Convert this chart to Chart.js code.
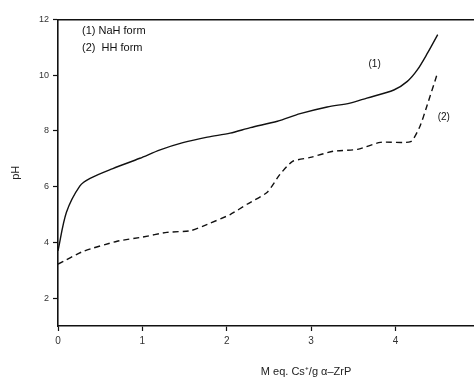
<!DOCTYPE html>
<html><head><meta charset="utf-8">
<script src="https://cdn.jsdelivr.net/npm/chart.js@4"></script>
<style>html,body{margin:0;padding:0;background:#fff}#wrap{width:474px;height:388px}</style>
</head><body><div id="wrap"><canvas id="c" width="474" height="388"></canvas></div>
<script>
const xTicks = [0, 1, 2, 3, 4];
const yTicks = [2, 4, 6, 8, 10, 12];
const nahX = [0, 0.1, 0.26, 0.38, 0.65, 0.97, 1.21, 1.48, 1.77, 2.04, 2.28, 2.6, 2.87, 3.19, 3.46, 3.66, 3.98, 4.14, 4.26, 4.38, 4.5];
const nahY = [3.7, 5.08, 6.03, 6.3, 6.65, 7.02, 7.32, 7.58, 7.78, 7.92, 8.12, 8.35, 8.62, 8.86, 9.0, 9.18, 9.47, 9.78, 10.2, 10.8, 11.46];
const hhX = [0, 0.3, 0.7, 1.0, 1.29, 1.57, 1.77, 2.04, 2.24, 2.48, 2.63, 2.78, 2.99, 3.26, 3.55, 3.82, 4.18, 4.29, 4.37, 4.5];
const hhY = [3.22, 3.68, 4.04, 4.19, 4.36, 4.42, 4.65, 5.0, 5.37, 5.8, 6.44, 6.91, 7.05, 7.27, 7.34, 7.59, 7.62, 8.17, 8.88, 10.1];
const legendLines = ["(1) NaH form", "(2)  HH form"];
const curveLabels = [{x: 3.68, y: 10.4, t: "(1)"}, {x: 4.5, y: 8.5, t: "(2)"}];
const xTitle = "M eq. Cs\u207A/g \u03B1\u2013ZrP";

const pts = (xs, ys) => xs.map((x, i) => ({x: x, y: ys[i]}));
const FONT = "'Liberation Sans', Arial, sans-serif";

const textPlugin = {
  id: 'texts',
  afterDatasetsDraw(chart) {
    const ctx = chart.ctx, xs = chart.scales.x, ys = chart.scales.y;
    ctx.save();
    ctx.fillStyle = '#111';
    ctx.font = '11px ' + FONT;
    ctx.textBaseline = 'middle';
    ctx.textAlign = 'left';
    legendLines.forEach((t, i) => ctx.fillText(t, 82, 31 + i * 17));
    ctx.font = '10px ' + FONT;
    curveLabels.forEach(c => ctx.fillText(c.t, xs.getPixelForValue(c.x), ys.getPixelForValue(c.y)));
    ctx.fillStyle = '#222';
    ctx.font = '11px ' + FONT;
    ctx.textAlign = 'center';
    ctx.fillText(xTitle, xs.getPixelForValue(2.94), 372);
    ctx.restore();
  }
};

new Chart(document.getElementById('c'), {
  type: 'scatter',
  data: {
    datasets: [
      {data: pts(nahX, nahY), showLine: true, borderColor: '#111', borderWidth: 1.4, pointRadius: 0, tension: 0.3, fill: false},
      {data: pts(hhX, hhY), showLine: true, borderColor: '#111', borderWidth: 1.4, borderDash: [6, 4], pointRadius: 0, tension: 0.2, fill: false}
    ]
  },
  options: {
    responsive: false,
    animation: false,
    layout: {padding: 0},
    plugins: {legend: {display: false}, tooltip: {enabled: false}},
    scales: {
      x: {
        type: 'linear', min: 0, max: 4.93, position: 'bottom',
        afterBuildTicks: s => { s.ticks = xTicks.map(v => ({value: v})); },
        afterFit: s => { s.height = 62; },
        grid: {drawOnChartArea: false, drawTicks: true, tickLength: 5, color: '#111', tickWidth: 1.2},
        border: {display: true, color: '#111', width: 1.6},
        ticks: {color: '#333', font: {family: FONT, size: 10}, padding: 4, maxRotation: 0}
      },
      x2: {
        type: 'linear', min: 0, max: 4.93, position: 'top',
        afterFit: s => { s.height = 19.5; },
        grid: {display: false},
        border: {display: true, color: '#111', width: 1.6},
        ticks: {display: false}
      },
      y: {
        type: 'linear', min: 1, max: 12,
        afterBuildTicks: s => { s.ticks = yTicks.map(v => ({value: v})); },
        afterFit: s => { s.width = 58; },
        grid: {drawOnChartArea: false, drawTicks: true, tickLength: 5, color: '#111', tickWidth: 1.2},
        border: {display: true, color: '#111', width: 1.6},
        ticks: {color: '#333', font: {family: FONT, size: 9}, padding: 4},
        title: {display: true, text: 'pH', color: '#222', font: {family: FONT, size: 11}, padding: {top: 9, bottom: 0}}
      }
    }
  },
  plugins: [textPlugin]
});
</script>
</body></html>
